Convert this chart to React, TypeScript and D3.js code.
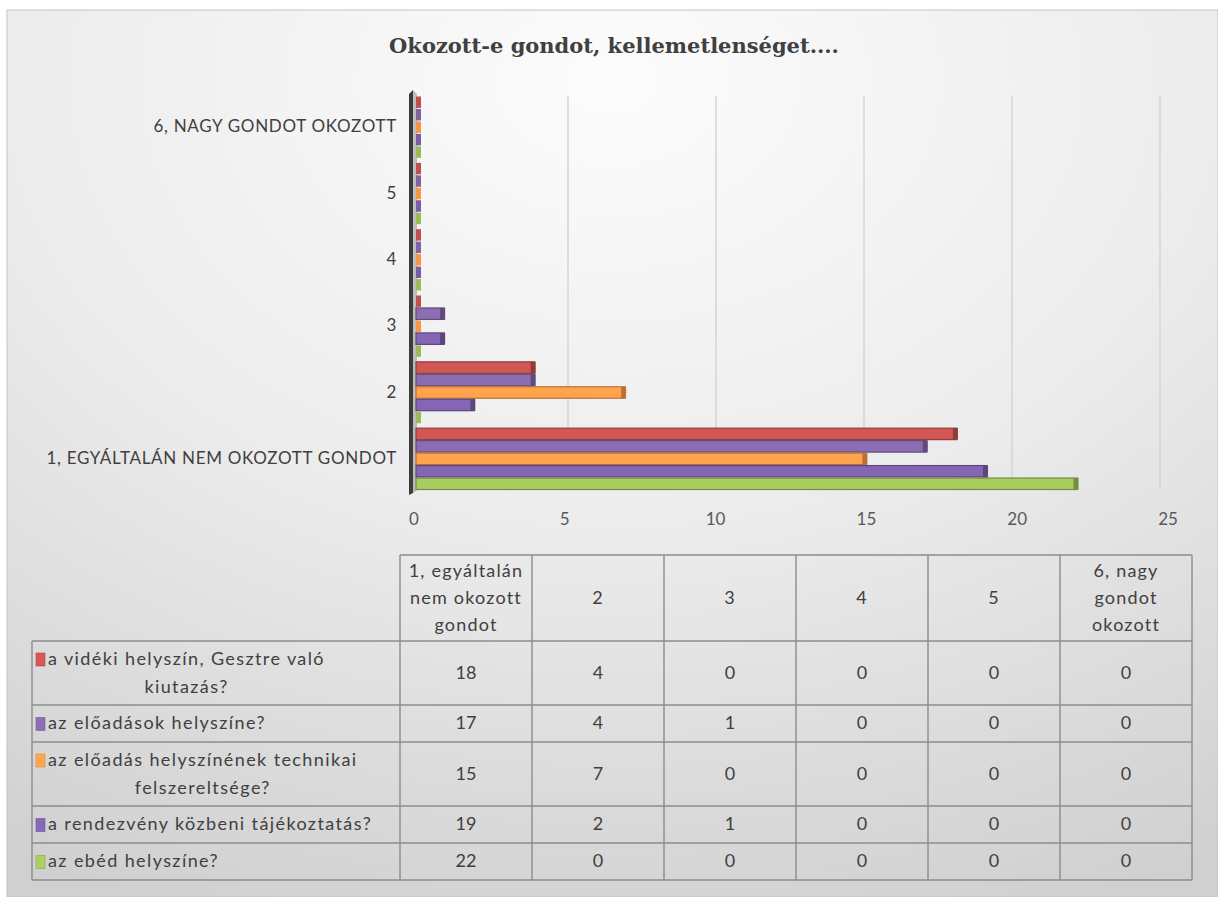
import React, { useRef, useEffect } from 'react';
import * as d3 from 'd3';

const categories = ['1', '2', '3', '4', '5', '6'];
const axisLabels = ['1, EGYÁLTALÁN NEM OKOZOTT GONDOT', '2', '3', '4', '5', '6, NAGY GONDOT OKOZOTT'];
const headerLines = [['1, egyáltalán', 'nem okozott', 'gondot'], ['2'], ['3'], ['4'], ['5'], ['6, nagy', 'gondot', 'okozott']];
const seriesLines = [
  ['a vidéki helyszín, Gesztre való', 'kiutazás?'],
  ['az előadások helyszíne?'],
  ['az előadás helyszínének technikai', 'felszereltsége?'],
  ['a rendezvény közbeni tájékoztatás?'],
  ['az ebéd helyszíne?'],
];
const seriesColors = ['#c0504d', '#8064a2', '#f79646', '#7a5da6', '#9bbb59'];
const videkiValues = [18, 4, 0, 0, 0, 0];
const eloadasokValues = [17, 4, 1, 0, 0, 0];
const technikaiValues = [15, 7, 0, 0, 0, 0];
const tajekoztatasValues = [19, 2, 1, 0, 0, 0];
const ebedValues = [22, 0, 0, 0, 0, 0];
const xTicks = [0, 5, 10, 15, 20, 25];
const title = 'Okozott-e gondot, kellemetlenséget....';

const seriesValues = [videkiValues, eloadasokValues, technikaiValues, tajekoztatasValues, ebedValues];

const W = 1218;
const H = 897;
const FONT = 'Lato, "Open Sans", sans-serif';

const App = () => {
  const svgRef = useRef<SVGSVGElement>(null);

  useEffect(() => {
    document.body.style.margin = '0';
    const svg = d3.select(svgRef.current);
    svg.selectAll('*').remove();

    const defs = svg.append('defs');
    const bg = defs.append('radialGradient').attr('id', 'bg')
      .attr('cx', '50%').attr('cy', '8%').attr('r', '100%')
      .attr('gradientUnits', 'objectBoundingBox');
    bg.append('stop').attr('offset', '0').attr('stop-color', '#fcfcfc');
    bg.append('stop').attr('offset', '0.5').attr('stop-color', '#ececec');
    bg.append('stop').attr('offset', '1').attr('stop-color', '#d0d0d0');

    svg.append('rect').attr('x', 7).attr('y', 10).attr('width', W - 7).attr('height', H - 10)
      .attr('fill', 'url(#bg)').attr('stroke', '#c4c4c4');

    svg.append('text').attr('x', 614).attr('y', 53).attr('text-anchor', 'middle')
      .attr('font-family', '"DejaVu Serif", serif').attr('font-weight', 'bold')
      .attr('font-size', 21).attr('fill', '#404040').text(title);

    const x = d3.scaleLinear().domain([0, 25]).range([414, 1168]);
    const xBack = d3.scaleLinear().domain([0, 25]).range([420, 1160]);
    const y = d3.scaleBand().domain([...categories].reverse()).range([92, 490]).padding(0);
    const ySeries = d3.scaleBand().domain(d3.range(seriesValues.length).map(String))
      .range([4, y.bandwidth()]).padding(0);

    // back wall gridlines
    svg.append('g').selectAll('line').data(xTicks.filter(t => t > 0)).join('line')
      .attr('x1', d => xBack(d)).attr('x2', d => xBack(d))
      .attr('y1', 96).attr('y2', 490)
      .attr('stroke', '#d4d4d4').attr('stroke-width', 1.5);

    // vertical axis wall
    svg.append('path').attr('d', 'M409,94 L413,90 L413,493 L409,495 Z').attr('fill', '#3c3c3c');
    svg.append('path').attr('d', 'M413,90 L417,94 L417,490 L413,493 Z').attr('fill', '#9a9a9a').attr('opacity', 0.6);

    // bars
    const barG = svg.append('g');
    seriesValues.forEach((vals, si) => {
      const c = seriesColors[si];
      const dark = d3.color(c)!.darker(0.8).formatHex();
      const light = d3.color(c)!.brighter(0.25).formatHex();
      const g = barG.append('g');
      vals.forEach((v, ci) => {
        const by = (y(categories[ci]) ?? 0) + (ySeries(String(si)) ?? 0);
        const bh = ySeries.bandwidth();
        const x0 = x(0) + 2;
        const x1 = Math.max(x(v), x0 + 4);
        if (v > 0) {
          g.append('rect').attr('x', x0).attr('y', by + 0.5).attr('width', x1 - x0).attr('height', bh - 1)
            .attr('fill', light).attr('stroke', dark).attr('stroke-width', 1.2);
        }
        g.append('path')
          .attr('d', `M${x1 - 4},${by + 0.5} L${x1 + 1},${by + 0.5} L${x1 + 1},${by + bh - 0.5} L${x1 - 4},${by + bh - 0.5} Z`)
          .attr('fill', v > 0 ? dark : c);
      });
    });

    // category labels
    svg.append('g').selectAll('text').data(categories).join('text')
      .attr('x', 397).attr('y', d => (y(d) ?? 0) + y.bandwidth() / 2 + 3)
      .attr('text-anchor', 'end').attr('dominant-baseline', 'middle')
      .attr('font-family', FONT).attr('font-size', 17).attr('letter-spacing', 0.7).attr('fill', '#404040')
      .text((d, i) => axisLabels[i]);

    // x tick labels
    svg.append('g').selectAll('text').data(xTicks).join('text')
      .attr('x', d => x(d)).attr('y', 521)
      .attr('text-anchor', 'middle').attr('dominant-baseline', 'middle')
      .attr('font-family', FONT).attr('font-size', 17).attr('fill', '#595959')
      .text(d => d);

    // data table
    const col = d3.scaleBand().domain(categories).range([400, 1192]).padding(0);
    const headTop = 555;
    const headBottom = 641;
    const rowHeights = seriesLines.map(l => (l.length > 1 ? 64 : 37));
    const rowTops: number[] = [];
    let acc = headBottom;
    rowHeights.forEach(h => { rowTops.push(acc); acc += h; });
    const tableBottom = acc;
    const tableLeft = 32;
    const lineColor = '#8c8c8c';
    const lines = svg.append('g').attr('stroke', lineColor).attr('stroke-width', 1.4);

    lines.append('line').attr('x1', 400).attr('x2', 1192).attr('y1', headTop).attr('y2', headTop);
    lines.append('line').attr('x1', tableLeft).attr('x2', 1192).attr('y1', headBottom).attr('y2', headBottom);
    rowTops.forEach((t, i) => {
      lines.append('line').attr('x1', tableLeft).attr('x2', 1192)
        .attr('y1', t + rowHeights[i]).attr('y2', t + rowHeights[i]);
    });
    lines.append('line').attr('x1', tableLeft).attr('x2', tableLeft).attr('y1', headBottom).attr('y2', tableBottom);
    categories.forEach(cat => {
      const cx = col(cat) ?? 0;
      lines.append('line').attr('x1', cx).attr('x2', cx).attr('y1', headTop).attr('y2', tableBottom);
    });
    lines.append('line').attr('x1', 1192).attr('x2', 1192).attr('y1', headTop).attr('y2', tableBottom);

    const txt = svg.append('g').attr('font-family', FONT).attr('font-size', 18).attr('fill', '#404040')
      .attr('dominant-baseline', 'middle');

    const headMid = (headTop + headBottom) / 2;
    categories.forEach((cat, ci) => {
      const cx = (col(cat) ?? 0) + col.bandwidth() / 2;
      const ls = headerLines[ci];
      ls.forEach((l, li) => {
        txt.append('text').attr('x', cx).attr('y', headMid + 1 + (li - (ls.length - 1) / 2) * 27)
          .attr('text-anchor', 'middle').attr('letter-spacing', 1.2).text(l);
      });
    });

    seriesLines.forEach((ls, si) => {
      const mid = rowTops[si] + rowHeights[si] / 2;
      const firstY = mid + 1 - ((ls.length - 1) / 2) * 28;
      svg.append('rect').attr('x', 36).attr('y', firstY - 7).attr('width', 9).attr('height', 13)
        .attr('fill', d3.color(seriesColors[si])!.brighter(0.3).formatHex())
        .attr('stroke', d3.color(seriesColors[si])!.darker(0.3).formatHex()).attr('stroke-width', 0.6);
      const first = txt.append('text').attr('x', 48).attr('y', firstY).attr('text-anchor', 'start')
        .attr('letter-spacing', 1.4).text(ls[0]);
      const fw = (first.node() as SVGTextElement).getComputedTextLength();
      ls.slice(1).forEach((l, li) => {
        txt.append('text').attr('x', 48 + fw / 2).attr('y', firstY + (li + 1) * 28)
          .attr('text-anchor', 'middle').attr('letter-spacing', 1.4).text(l);
      });
      seriesValues[si].forEach((v, ci) => {
        txt.append('text').attr('x', (col(categories[ci]) ?? 0) + col.bandwidth() / 2).attr('y', mid + 1)
          .attr('text-anchor', 'middle').text(v);
      });
    });
  }, []);

  return <svg ref={svgRef} width={W} height={H} style={{ display: 'block' }} />;
};

export default App;
